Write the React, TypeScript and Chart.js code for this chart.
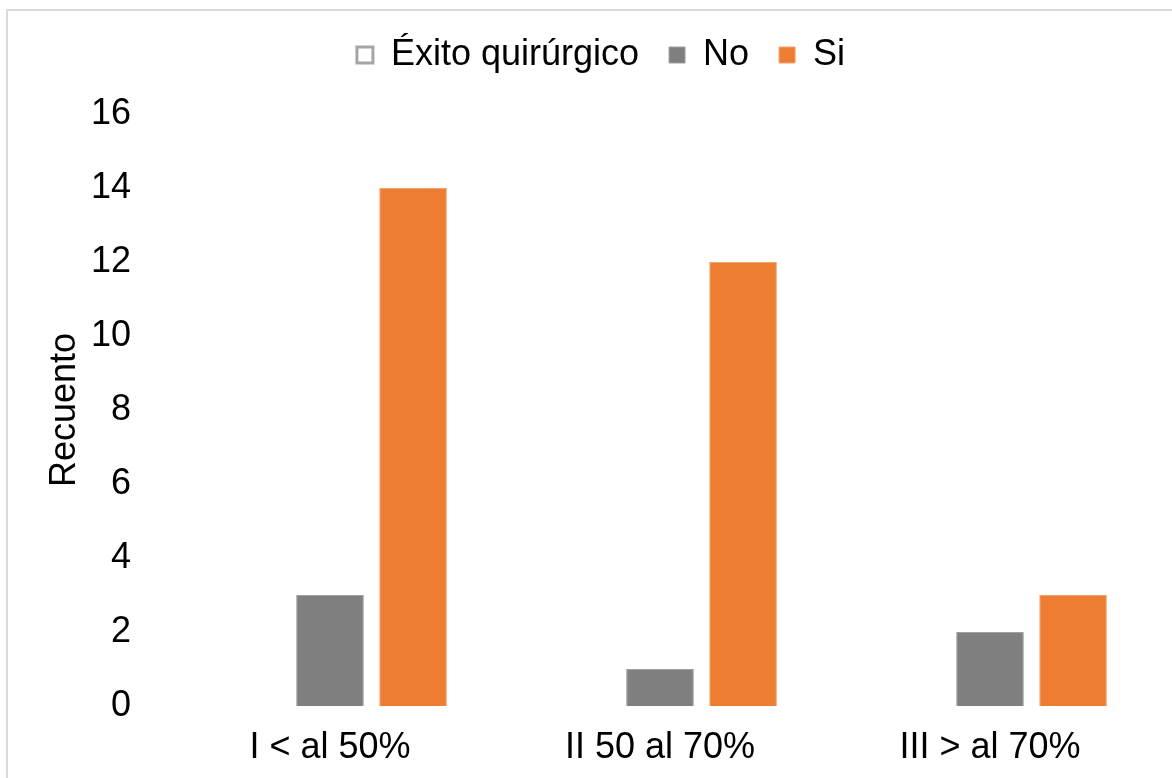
import React, { useEffect, useRef } from "react";
import { Chart, registerables, layouts } from "chart.js";

Chart.register(...registerables);

const categories = ["I < al 50%", "II 50 al 70%", "III > al 70%"];
const exitoValues: (number | null)[] = [null, null, null];
const noValues = [3, 1, 2];
const siValues = [14, 12, 3];
const yTicks = [0, 2, 4, 6, 8, 10, 12, 14, 16];

const FONT = "'Liberation Sans', Arial, sans-serif";

const frame = {
  id: "frame",
  beforeDraw(chart: any) {
    const ctx = chart.ctx;
    ctx.save();
    ctx.fillStyle = "#ffffff";
    ctx.fillRect(0, 0, chart.width, chart.height);
    ctx.strokeStyle = "#d9d9d9";
    ctx.lineWidth = 2;
    ctx.strokeRect(7, 10, chart.width + 20, chart.height + 20);
    ctx.restore();
  },
};

const spacer = {
  id: "spacer",
  beforeInit(chart: any) {
    const box: any = {
      position: "top",
      weight: 0,
      fullSize: true,
      options: {},
      top: 0,
      left: 0,
      right: 0,
      bottom: 0,
      width: 0,
      height: 0,
      isHorizontal() {
        return true;
      },
      update(maxWidth: number) {
        this.width = maxWidth;
        this.height = 31;
      },
      draw() {},
    };
    layouts.addBox(chart, box);
  },
};

export default function App() {
  const ref = useRef<HTMLCanvasElement | null>(null);
  useEffect(() => {
    if (!ref.current) return;
    const chart = new Chart(ref.current, {
      type: "bar",
      data: {
        labels: categories,
        datasets: [
          {
            label: "Éxito quirúrgico",
            data: exitoValues,
            backgroundColor: "#ffffff",
            borderColor: "#a5a5a5",
            borderWidth: 3,
          },
          {
            label: "No",
            data: noValues,
            backgroundColor: "#7f7f7f",
            borderColor: "#a0a0a0",
            borderWidth: 1,
          },
          {
            label: "Si",
            data: siValues,
            backgroundColor: "#ed7d31",
            borderColor: "#f2a46f",
            borderWidth: 1,
          },
        ],
      },
      plugins: [frame, spacer],
      options: {
        animation: false,
        responsive: false,
        maintainAspectRatio: false,
        devicePixelRatio: 1,
        datasets: {
          bar: { categoryPercentage: 0.755, barPercentage: 0.815 },
        },
        layout: { padding: { top: 7, right: 17, bottom: 0, left: 47 } },
        plugins: {
          legend: {
            position: "top",
            labels: {
              font: { family: FONT, size: 36 },
              color: "#000000",
              boxWidth: 16,
              boxHeight: 16,
              padding: 30,
            },
          },
          tooltip: { enabled: false },
        },
        scales: {
          x: {
            grid: { display: false, drawTicks: false },
            border: { display: false },
            ticks: {
              font: { family: FONT, size: 36 },
              color: "#000000",
              padding: 20,
              maxRotation: 0,
            },
            afterFit: (s: any) => {
              s.height = 72;
            },
          },
          y: {
            min: 0,
            max: 16,
            grid: { display: false, drawTicks: false },
            border: { display: false },
            afterBuildTicks: (s: any) => {
              s.ticks = yTicks.map((v) => ({ value: v }));
            },
            ticks: {
              font: { family: FONT, size: 36 },
              color: "#000000",
              padding: 34,
            },
            title: {
              display: true,
              text: "Recuento",
              font: { family: FONT, size: 36, lineHeight: 1 },
              color: "#000000",
              padding: { top: 0, bottom: 0 },
            },
            afterFit: (s: any) => {
              s.width = 118;
            },
          },
        },
      },
    });
    return () => chart.destroy();
  }, []);
  return (
    <div style={{ position: "fixed", left: 0, top: 0, width: 1172, height: 778, background: "#fff" }}>
      <canvas ref={ref} width={1172} height={778} />
    </div>
  );
}
